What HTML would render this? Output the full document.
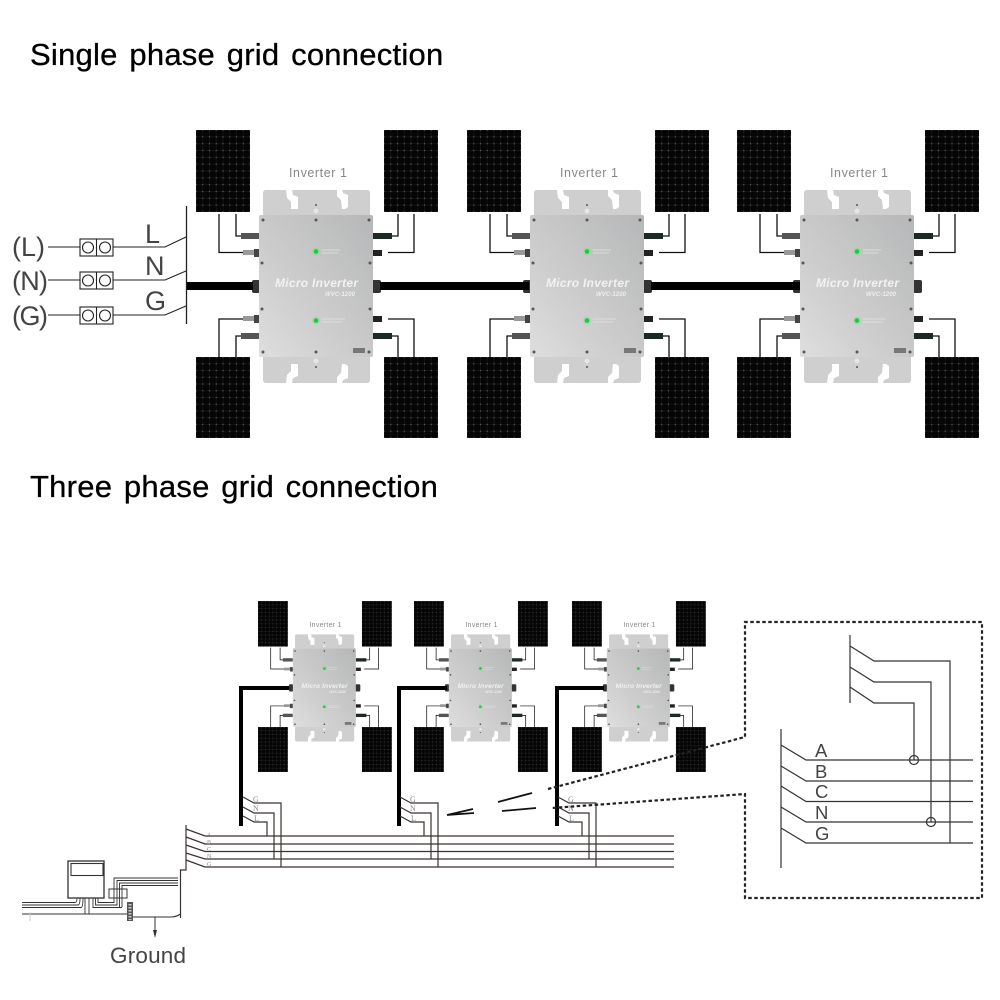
<!DOCTYPE html>
<html><head><meta charset="utf-8"><style>
html,body{margin:0;padding:0;background:#fff}
svg{display:block}
text{font-family:"Liberation Sans",sans-serif}
</style></head><body>
<svg width="1000" height="1000" viewBox="0 0 1000 1000" xmlns="http://www.w3.org/2000/svg">
<defs>
<pattern id="cells" x=".0625" y=".0417" width=".125" height=".0833" patternUnits="objectBoundingBox">
<rect width="7" height="7" fill="#050505"/>
<path d="M3.375 0V7M0 3.4H7" stroke="#1e1e1e" stroke-width=".5"/>
<path d="M2.700 3.400H4.050M3.375 2.700V4.100" stroke="#707070" stroke-width=".5"/>
</pattern>
<linearGradient id="body" x1="0" y1="1" x2="1" y2="0">
<stop offset="0" stop-color="#dedede"/><stop offset=".35" stop-color="#cfcfcf"/><stop offset="1" stop-color="#b6b7b8"/>
</linearGradient>
<g id="u">
<rect x="196" y="130" width="54" height="82" fill="url(#cells)"/>
<rect x="384" y="130" width="54" height="82" fill="url(#cells)"/>
<rect x="196" y="357" width="54" height="81" fill="url(#cells)"/>
<rect x="384" y="357" width="54" height="81" fill="url(#cells)"/>
<path d="M219 214V252.500H245M236 214V236H244M398 214V236H388M414 214V252.500H388M219 357V319H245M236 357V336H244M414 357V319H388M398 357V336H388" fill="none" stroke="#111" stroke-width="1.300"/>
<rect x="241" y="233" width="18" height="6" fill="#555"/><rect x="243" y="250" width="16" height="5" fill="#999"/><rect x="254" y="249" width="5" height="8" fill="#444"/>
<rect x="243" y="316" width="16" height="5" fill="#999"/><rect x="254" y="315" width="5" height="8" fill="#444"/><rect x="241" y="333" width="18" height="6" fill="#555"/>
<rect x="373" y="233" width="19" height="6" fill="#1c2a24"/><rect x="373" y="250" width="9" height="6" fill="#222"/>
<rect x="373" y="316" width="9" height="6" fill="#222"/><rect x="373" y="333" width="19" height="6" fill="#1c2a24"/>
<rect x="252" y="280" width="8" height="13" rx="2" fill="#333"/><rect x="372" y="280" width="9" height="13" rx="2" fill="#333"/>
<path d="M266 190H367Q370 190 370 193V215H263V193Q263 190 266 190ZM263 357H370V380Q370 383 367 383H266Q263 383 263 380Z" fill="#cfcfcf"/>
<path d="M286 190H292L293 195L298 197V209H291V202L287 198ZM337 190H342L343 193L348 195V207L345 209H342L341 200L337 196ZM286 383H292L293 378L298 376V364H291V371L287 375ZM337 383H342L343 380L348 378V366L345 364H342L341 373L337 377Z" fill="#fff"/>
<rect x="259" y="215" width="114" height="142" rx="2" fill="url(#body)"/>
<g fill="#55575a"><circle cx="263" cy="220" r="1.500"/><circle cx="316" cy="220" r="1.500"/><circle cx="369" cy="220" r="1.500"/><circle cx="262" cy="263" r="1.500"/><circle cx="370" cy="263" r="1.500"/><circle cx="262" cy="309" r="1.500"/><circle cx="370" cy="309" r="1.500"/><circle cx="263" cy="352" r="1.500"/><circle cx="316" cy="352" r="1.500"/><circle cx="369" cy="352" r="1.500"/><circle cx="316" cy="205" r="1"/><circle cx="316" cy="367" r="1"/></g>
<circle cx="316" cy="211" r="2.500" fill="#e6e6e6"/><circle cx="316" cy="361" r="2.500" fill="#e6e6e6"/>
<circle cx="316" cy="251.500" r="4" fill="#7fe08f" opacity=".5"/><circle cx="316" cy="251.500" r="2.300" fill="#1fc93f"/>
<circle cx="316" cy="320.500" r="4" fill="#7fe08f" opacity=".5"/><circle cx="316" cy="320.500" r="2.300" fill="#1fc93f"/>
<path d="M322 250H340M322 253H338M322 319H345M322 322H342" stroke="#e4e4e4" stroke-width=".8"/>
<rect x="353" y="348" width="12" height="5" fill="#777"/>
</g>
</defs>

<text x="30" y="65" font-size="31" fill="#000" stroke="#000" stroke-width=".3" letter-spacing=".25" word-spacing="2.800">Single phase grid connection</text>
<text x="30" y="497" font-size="31" fill="#000" stroke="#000" stroke-width=".3" letter-spacing=".25" word-spacing="2.800">Three phase grid connection</text>

<!-- big units -->
<g><use href="#u"/>
<text x="289" y="177" font-size="12.500" fill="#888" textLength="58">Inverter 1</text>
<text x="275" y="287" font-size="12" font-weight="bold" font-style="italic" fill="#f2f2f2" textLength="83">Micro Inverter</text>
<text x="325" y="296" font-size="6" font-weight="bold" font-style="italic" fill="#eee" textLength="30">WVC-1200</text></g>
<g transform="translate(271 0)"><use href="#u"/>
<text x="289" y="177" font-size="12.500" fill="#888" textLength="58">Inverter 1</text>
<text x="275" y="287" font-size="12" font-weight="bold" font-style="italic" fill="#f2f2f2" textLength="83">Micro Inverter</text>
<text x="325" y="296" font-size="6" font-weight="bold" font-style="italic" fill="#eee" textLength="30">WVC-1200</text></g>
<g transform="translate(541 0)"><use href="#u"/>
<text x="289" y="177" font-size="12.500" fill="#888" textLength="58">Inverter 1</text>
<text x="275" y="287" font-size="12" font-weight="bold" font-style="italic" fill="#f2f2f2" textLength="83">Micro Inverter</text>
<text x="325" y="296" font-size="6" font-weight="bold" font-style="italic" fill="#eee" textLength="30">WVC-1200</text></g>

<!-- thick bus -->
<rect x="187" y="282" width="66" height="8" fill="#000"/>
<rect x="380" y="282" width="149" height="8" fill="#000"/>
<rect x="651" y="282" width="149" height="8" fill="#000"/>

<!-- single phase terminal -->
<g fill="none" stroke="#222" stroke-width="1.100">
<path d="M186.500 206V324" stroke-width="1.300"/>
<path d="M48 247H80M113 247H165L186 237M48 280H80M113 280H165L186 271M48 315H80M113 315H165L186 306"/>
<rect x="80" y="239" width="33" height="17"/><path d="M96.500 239V256"/><circle cx="88" cy="247.500" r="5.500"/><circle cx="105" cy="247.500" r="5.500"/>
<rect x="80" y="272" width="33" height="17"/><path d="M96.500 272V289"/><circle cx="88" cy="280.500" r="5.500"/><circle cx="105" cy="280.500" r="5.500"/>
<rect x="80" y="307" width="33" height="17"/><path d="M96.500 307V324"/><circle cx="88" cy="315.500" r="5.500"/><circle cx="105" cy="315.500" r="5.500"/>
</g>
<g fill="#444" font-size="27">
<text x="12" y="256" textLength="33">(L)</text>
<text x="12" y="290" textLength="36">(N)</text>
<text x="12" y="325" textLength="36">(G)</text>
<text x="145" y="243">L</text>
<text x="145" y="275">N</text>
<text x="145" y="310">G</text>
</g>

<!-- small units -->
<g transform="translate(149.600 528.900) scale(.553 .555)"><use href="#u"/>
<text x="289" y="177" font-size="12.500" fill="#888" textLength="58">Inverter 1</text>
<text x="275" y="287" font-size="12" font-weight="bold" font-style="italic" fill="#f2f2f2" textLength="83">Micro Inverter</text>
<text x="325" y="296" font-size="6" font-weight="bold" font-style="italic" fill="#eee" textLength="30">WVC-1200</text></g>
<g transform="translate(305.600 528.900) scale(.553 .555)"><use href="#u"/>
<text x="289" y="177" font-size="12.500" fill="#888" textLength="58">Inverter 1</text>
<text x="275" y="287" font-size="12" font-weight="bold" font-style="italic" fill="#f2f2f2" textLength="83">Micro Inverter</text>
<text x="325" y="296" font-size="6" font-weight="bold" font-style="italic" fill="#eee" textLength="30">WVC-1200</text></g>
<g transform="translate(463.600 528.900) scale(.553 .555)"><use href="#u"/>
<text x="289" y="177" font-size="12.500" fill="#888" textLength="58">Inverter 1</text>
<text x="275" y="287" font-size="12" font-weight="bold" font-style="italic" fill="#f2f2f2" textLength="83">Micro Inverter</text>
<text x="325" y="296" font-size="6" font-weight="bold" font-style="italic" fill="#eee" textLength="30">WVC-1200</text></g>

<!-- thick risers -->
<path d="M241 826V688H289M399 826V688H447M557 826V688H604" fill="none" stroke="#000" stroke-width="4"/>

<!-- three phase busbars -->
<g fill="none" stroke="#3a3230" stroke-width="1.200">
<path d="M186 825V870H180.500V918"/>
<path d="M186 829L205 836H674M186 837L205 844H674M186 845L205 851.500H674M186 853L205 859H674M186 860L205 867H674"/>
<path d="M243 797L254 803H281V867M243 807L254 813H274V859M243 816L254 822H267V836"/>
<path d="M400 797L411 803H438V867M400 807L411 813H431V859M400 816L411 822H424V836"/>
<path d="M558 797L569 803H596V867M558 807L569 813H589V859M558 816L569 822H582V836"/>
</g>
<g fill="#888">
<text x="207" y="837" font-size="6" style="font-family:'Liberation Serif',serif">A</text><text x="207" y="844" font-size="6" style="font-family:'Liberation Serif',serif">B</text><text x="207" y="851" font-size="6" style="font-family:'Liberation Serif',serif">C</text><text x="207" y="858" font-size="6" style="font-family:'Liberation Serif',serif">N</text><text x="207" y="866" font-size="6" style="font-family:'Liberation Serif',serif">G</text>
<text x="253" y="802" font-size="8" style="font-family:'Liberation Serif',serif">G</text><text x="253" y="811" font-size="8" style="font-family:'Liberation Serif',serif">N</text><text x="254" y="821" font-size="8" style="font-family:'Liberation Serif',serif">L</text>
<text x="410" y="802" font-size="8" style="font-family:'Liberation Serif',serif">G</text><text x="410" y="811" font-size="8" style="font-family:'Liberation Serif',serif">N</text><text x="411" y="821" font-size="8" style="font-family:'Liberation Serif',serif">L</text>
<text x="568" y="802" font-size="8" style="font-family:'Liberation Serif',serif">G</text><text x="568" y="811" font-size="8" style="font-family:'Liberation Serif',serif">N</text><text x="569" y="821" font-size="8" style="font-family:'Liberation Serif',serif">L</text>
</g>

<!-- break marks -->
<path d="M498 802L532 793M502 811L536 808M447 815L473 809M447 815L474 813" stroke="#111" stroke-width="1.800" fill="none"/>

<!-- meter -->
<rect x="109" y="889" width="18" height="9" fill="#fff" stroke="#333" stroke-width="1"/>
<g fill="none" stroke="#333" stroke-width=".9">
<rect x="68" y="861" width="36" height="37" stroke-width="1.300"/>
<rect x="71" y="863.500" width="32" height="12" stroke-width="1.100"/>
<path d="M22 902.500H75Q77 902.500 77 898M22 905H78Q80 905 80 898M22 907.500H81Q83 907.500 83 898"/>
<path d="M22 914H127" stroke-width="1.100"/><path d="M85 898V914M89 898V914" />
<path d="M98 898V902.500H114V878H178M95.500 898V905H117V880.500H178M93 898V907.500H119.500V883H178M122 907.500H119.500M122 907V885.500H178"/>
<path d="M133 917H171Q176 917 180.500 914" stroke-width="1.100"/>
<path d="M155 917V934" stroke-width="1"/>
</g>
<path d="M153 930H157L155 938Z" fill="#333"/>
<rect x="127" y="902" width="6" height="19" fill="#555"/>
<path d="M130 904V920" stroke="#ccc" stroke-width="3" stroke-dasharray="1.500 1.500"/>
<path d="M30 912V921" stroke="#ccc" stroke-width="1"/>
<text x="110" y="963" font-size="22.500" fill="#444" textLength="76">Ground</text>

<!-- dotted callout -->
<path d="M548 789L745 737V622H982V898H745V794L552 808" fill="none" stroke="#222" stroke-width="2.200" stroke-dasharray="3.500 2.500"/>

<!-- inset -->
<g fill="none" stroke="#333" stroke-width="1.200">
<path d="M850 635V703M781 729V868"/>
<path d="M850 646L874 661H950V843M850 667L874 682H931V822M850 687L874 703H914V760"/>
<path d="M781 745L806 760H973M781 766L806 781H973M781 786L806 801.500H973M781 807L806 822H973M781 828L806 843H973"/>
<circle cx="914" cy="760" r="4.500"/><circle cx="931" cy="822" r="4.500"/>
</g>
<g font-size="18.500" fill="#444">
<text x="815" y="757">A</text><text x="815" y="778">B</text><text x="815" y="798">C</text><text x="815" y="819">N</text><text x="815" y="840">G</text>
</g>
</svg>
</body></html>
